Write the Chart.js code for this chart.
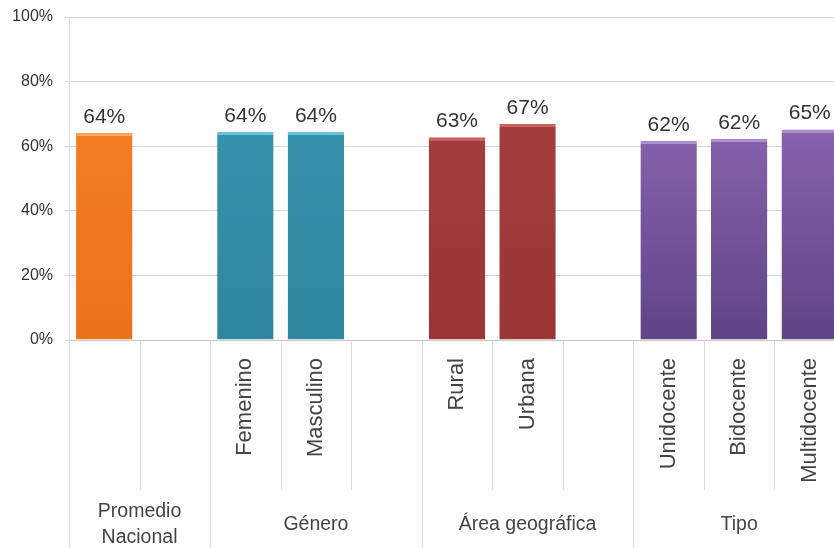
<!DOCTYPE html>
<html>
<head>
<meta charset="utf-8">
<script src="https://cdn.jsdelivr.net/npm/chart.js@4"></script>
<style>
  html, body { margin: 0; padding: 0; background: #fff; overflow: hidden; }
  #wrap { width: 846px; height: 548px; position: relative; }
</style>
</head>
<body>
<div id="wrap"><canvas id="chart"></canvas></div>
<script>
// slots on the x axis, blank ones are the gaps between groups
const categories = ['', '', 'Femenino', 'Masculino', '', 'Rural', 'Urbana', '', 'Unidocente', 'Bidocente', 'Multidocente'];
const values = [64.2, null, 64.4, 64.4, null, 62.8, 66.9, null, 61.7, 62.3, 65.2];
const barGroup = [0, 0, 1, 1, 1, 2, 2, 2, 3, 3, 3];
const groupNames = [['Promedio', 'Nacional'], ['Género'], ['Área geográfica'], ['Tipo']];
const groupStart = [0, 2, 5, 8];
const yTicks = [0, 20, 40, 60, 80, 100];

const palette = [
    { top: '#f27d24', bottom: '#ec7219', edge: '#f8a45a' },
    { top: '#3792ab', bottom: '#2f879f', edge: '#6cc0d8' },
    { top: '#a33d3b', bottom: '#983735', edge: '#cc625f' },
    { top: '#8762ad', bottom: '#604485', edge: '#a88bca' }
];

const FONT = '"Liberation Sans", Arial, sans-serif';

const valueLabels = {
    id: 'valueLabels',
    afterDatasetsDraw(chart) {
        const ctx = chart.ctx;
        const meta = chart.getDatasetMeta(0);
        ctx.save();
        ctx.font = '21px ' + FONT;
        ctx.fillStyle = '#333';
        ctx.textAlign = 'center';
        ctx.textBaseline = 'alphabetic';
        meta.data.forEach((bar, i) => {
            if (values[i] == null) return;
            ctx.fillText(Math.round(values[i]) + '%', bar.x, bar.y - 10);
        });
        ctx.restore();
    }
};

const groupAxis = {
    id: 'groupAxis',
    afterDraw(chart) {
        const ctx = chart.ctx;
        const xs = chart.scales.x;
        const area = chart.chartArea;
        const half = (xs.getPixelForValue(1) - xs.getPixelForValue(0)) / 2;
        const edge = i => xs.getPixelForValue(i) - half;
        const bottom = chart.height;

        ctx.save();
        ctx.strokeStyle = '#dadada';
        ctx.lineWidth = 1;
        // left axis line runs through the whole height
        ctx.beginPath();
        ctx.moveTo(Math.round(area.left) + 0.5, area.top);
        ctx.lineTo(Math.round(area.left) + 0.5, bottom);
        ctx.stroke();

        for (let i = 1; i <= categories.length; i++) {
            const x = Math.round(edge(i)) + 0.5;
            const full = groupStart.includes(i) || i === categories.length;
            ctx.beginPath();
            ctx.moveTo(x, area.bottom);
            ctx.lineTo(x, full ? bottom : area.bottom + 150);
            ctx.stroke();
        }

        ctx.font = '19.5px ' + FONT;
        ctx.fillStyle = '#444';
        ctx.textAlign = 'center';
        ctx.textBaseline = 'middle';
        groupNames.forEach((lines, g) => {
            const from = groupStart[g];
            const to = g + 1 < groupStart.length ? groupStart[g + 1] : categories.length;
            const cx = (edge(from) + edge(to)) / 2;
            lines.forEach((txt, k) => {
                const cy = area.bottom + 185 + (k - (lines.length - 1) / 2) * 26;
                ctx.fillText(txt, cx, cy);
            });
        });
        ctx.restore();
    }
};

function barFill(context) {
    const p = palette[barGroup[context.dataIndex]];
    const area = context.chart.chartArea;
    if (!area) return p.top;
    const g = context.chart.ctx.createLinearGradient(0, area.top, 0, area.bottom);
    g.addColorStop(0, p.top);
    g.addColorStop(0.35, p.top);
    g.addColorStop(1, p.bottom);
    return g;
}

new Chart(document.getElementById('chart'), {
    type: 'bar',
    data: {
        labels: categories,
        datasets: [{
            data: values,
            backgroundColor: barFill,
            borderColor: ctx => palette[barGroup[ctx.dataIndex]].edge,
            borderWidth: { top: 3, left: 0, right: 0, bottom: 0 },
            borderSkipped: 'bottom',
            categoryPercentage: 1,
            barPercentage: 0.8
        }]
    },
    options: {
        responsive: true,
        maintainAspectRatio: false,
        animation: false,
        layout: { padding: { top: 17, right: 1, left: 0, bottom: 0 } },
        plugins: {
            legend: { display: false },
            tooltip: { enabled: false }
        },
        scales: {
            x: {
                grid: { display: false, drawTicks: false },
                border: { display: true, color: '#c8c8c8' },
                ticks: {
                    autoSkip: false,
                    minRotation: 90,
                    maxRotation: 90,
                    padding: 18,
                    color: '#444',
                    font: { family: FONT, size: 22 }
                },
                afterFit: scale => {
                    scale.height = 208;
                    scale.paddingLeft = 0;
                    scale.paddingRight = 0;
                }
            },
            y: {
                min: 0,
                max: 100,
                afterBuildTicks: scale => { scale.ticks = yTicks.map(v => ({ value: v })); },
                grid: { color: '#d4d4d4', tickLength: 4 },
                border: { display: false },
                ticks: {
                    padding: 12,
                    color: '#333',
                    font: { family: FONT, size: 16 },
                    callback: v => v + '%'
                },
                afterFit: scale => {
                    scale.width = 69;
                    scale.paddingTop = 0;
                    scale.paddingBottom = 0;
                }
            }
        }
    },
    plugins: [valueLabels, groupAxis]
});
</script>
</body>
</html>
